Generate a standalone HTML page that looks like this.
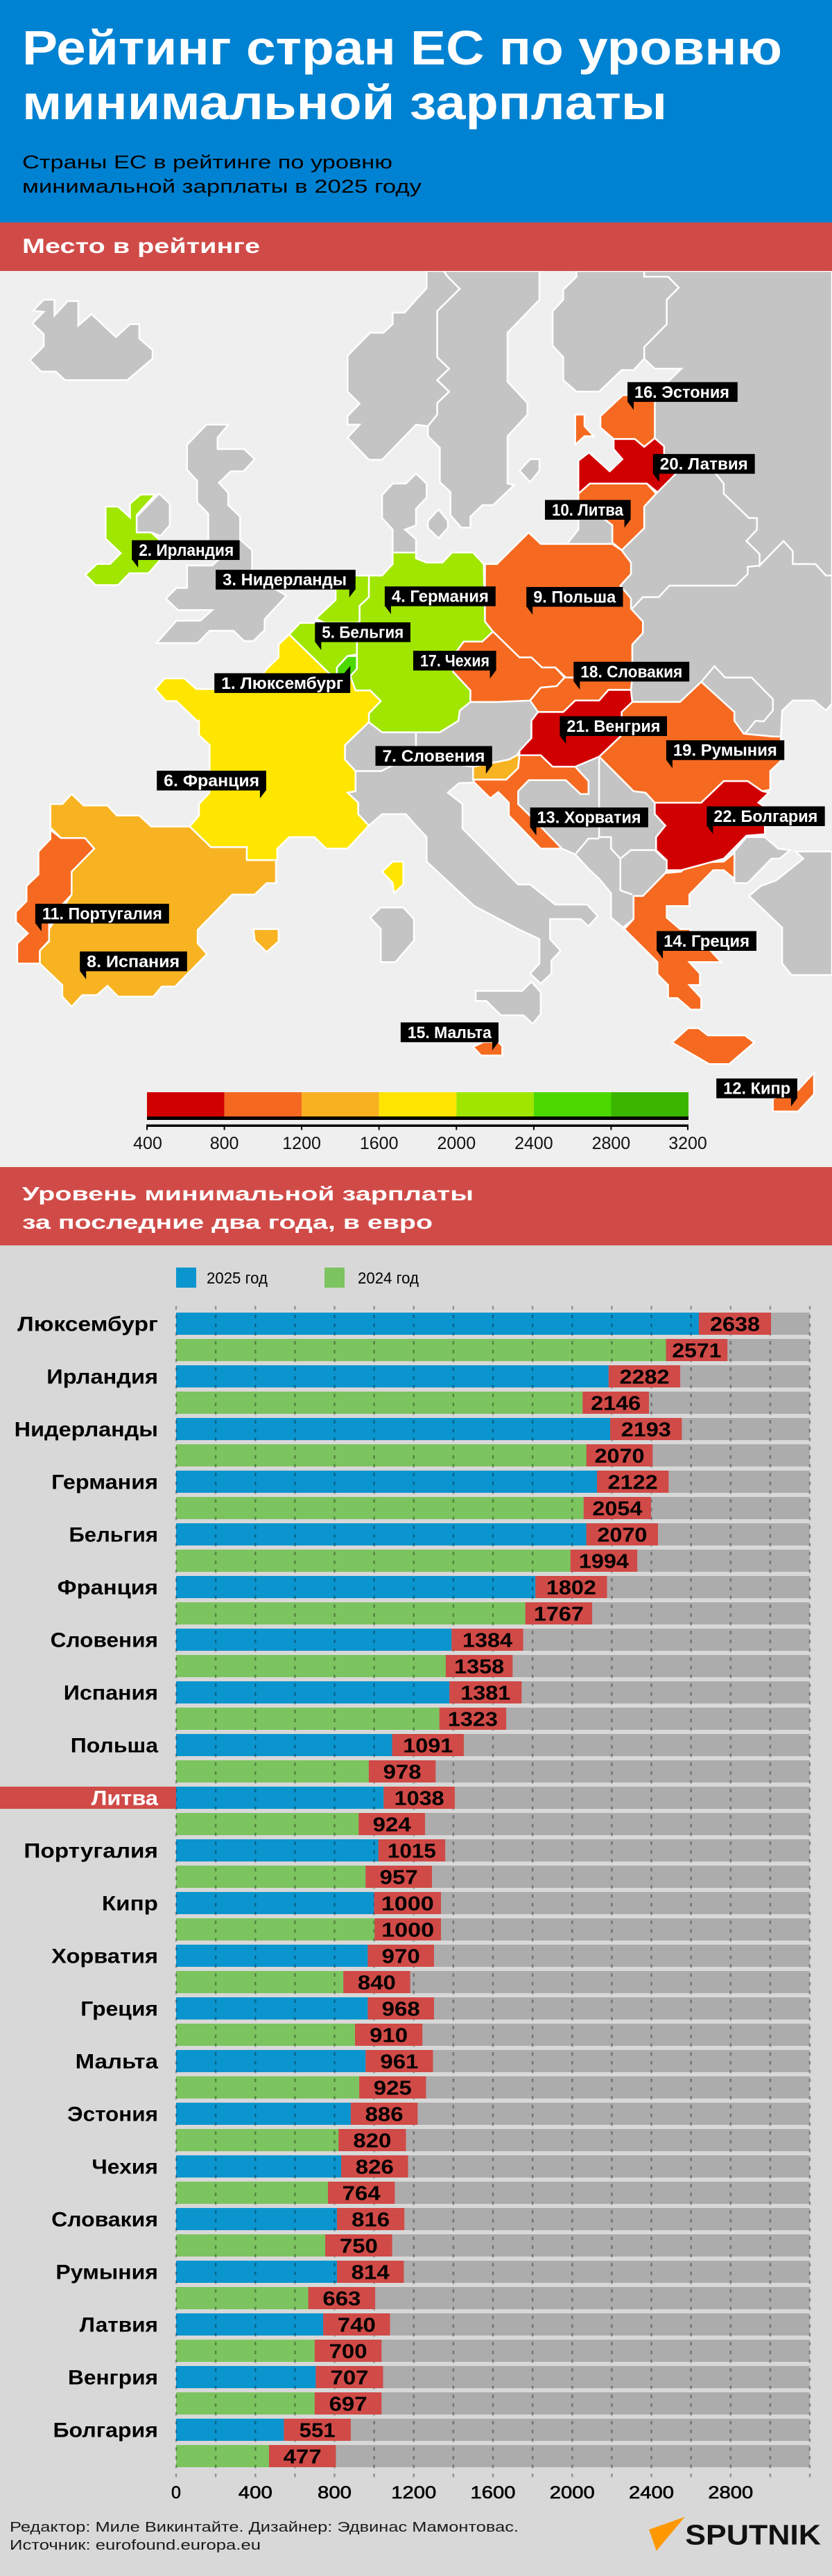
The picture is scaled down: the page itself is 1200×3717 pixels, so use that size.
<!DOCTYPE html>
<html><head><meta charset="utf-8"><style>
html,body{margin:0;padding:0;background:#d8d8d8;}
svg{display:block;}
text{font-family:"Liberation Sans","DejaVu Sans",sans-serif;}
</style></head><body>
<svg width="1200" height="3717" viewBox="0 0 1200 3717" xmlns="http://www.w3.org/2000/svg">
<defs><clipPath id="mc"><rect x="0" y="391" width="1200" height="1293"/></clipPath></defs>
<!-- header -->
<rect x="0" y="0" width="1200" height="321" fill="#0082d2"/>
<text x="32" y="93" font-size="70" font-weight="bold" fill="#fff" textLength="1096" lengthAdjust="spacingAndGlyphs">Рейтинг стран ЕС по уровню</text>
<text x="32" y="172" font-size="70" font-weight="bold" fill="#fff" textLength="930" lengthAdjust="spacingAndGlyphs">минимальной зарплаты</text>
<text x="32" y="243" font-size="27" fill="#000" textLength="534" lengthAdjust="spacingAndGlyphs">Страны ЕС в рейтинге по уровню</text>
<text x="32" y="278" font-size="27" fill="#000" textLength="576" lengthAdjust="spacingAndGlyphs">минимальной зарплаты в 2025 году</text>
<rect x="0" y="321" width="1200" height="70" fill="#d04b48"/>
<text x="32" y="365" font-size="30" font-weight="bold" fill="#fff" textLength="343" lengthAdjust="spacingAndGlyphs">Место в рейтинге</text>

<!-- map -->
<rect x="0" y="391" width="1200" height="1293" fill="#efefef"/>
<g clip-path="url(#mc)" stroke="#fff" stroke-width="2.5" stroke-linejoin="miter">
<g fill="#c4c4c4">
<polygon points="47.8,448.2 63.1,432.5 78.5,432.5 78.5,455.3 97.6,434.5 112.9,434.5 112.9,469.8 132,453.2 167.2,486.4 187.5,467.7 200.9,467.7 200.9,488.4 220,505 220,517.5 183.7,548.5 93.8,548.5 80.4,536.1 59.3,536.1 42.9,519.5 63.1,499.6 63.1,482.2 46.7,466.5 63.1,449.9"/>
<polygon points="297.7,612.8 329.1,612.8 313.8,631.5 313.8,648 352.1,648 367.4,662.6 351.3,680 333,680 315.7,696.6 329.1,711.1 329.1,728.9 346.3,745.5 346.3,778.6 363.6,794 363.6,830.5 413.3,859.5 381.6,893.5 381.6,909.2 365.5,925 352.1,925 336.8,910.1 302.3,910.1 285.1,927.9 225.8,927.9 254.5,895.6 288.9,895.6 306.2,880.2 256.4,880.2 239.2,863.6 254.5,848.3 269.8,848.3 269.8,816 306.2,816 317.6,805.6 300.4,786.9 300.4,741.3 284.3,724.8 284.3,693.7 269.8,677.9 269.8,641.8"/>
<polygon points="197.1,745.5 229.6,712.3 244.9,726.8 244.9,757.8 231.5,773.3 218.1,768.3 197.1,768.3"/>
<!-- east -->
<polygon points="929.1,391 1200,391 1200,1015 1191.3,1025.3 1174,1010.8 1143.4,1010.8 1128.1,1025.3 1126.2,1062.8 1114.7,1062.8 1072.6,1058.7 1059.2,1040 1059.2,1027.4 1011.4,983.9 980.8,1012.9 911.9,1012.9 910,995.5 911.9,977.6 911.9,930 927.2,913.4 927.2,896.8 910,878.2 910,863.6 894.7,845 910,828.4 910,811.8 896.6,794 929.1,762.1 929.1,731 946.3,712.3 948.3,710.2 977,681.2 957.8,656.3 957.8,643.9 944.4,632.3 944.4,570.1 963.6,550.6 982.7,532 944.4,532 929.1,517.5 929.1,500.9 961.6,467.7 961.6,432.5 978.9,415 963.6,399.3 929.1,399.3"/>
<polyline fill="none" points="977,681.2 1030.5,681.2 1043.9,697.8 1043.9,712.3 1080.3,747.5 1091.8,747.5 1091.8,764.1 1076.5,780.7 1095.6,799.4 1095.6,816 1130,780.7 1143.4,795.2 1143.4,813.9 1176,813.9 1191.3,830.5 1200,830.5"/>
<polyline fill="none" points="1095.6,816 1078.4,818 1078.4,828.4 1061.2,845 965.5,845 950.2,861.6 927.2,861.6 911.9,878.2"/>
<polyline fill="none" points="1011.4,983.9 1030.5,961.1 1045.8,977.6 1084.1,977.6 1114.7,1008.7 1114.7,1025.3 1101.3,1041 1089.8,1040 1074.6,1058.7"/>
<!-- Finland -->
<polygon points="831.5,391 929.1,391 929.1,399.3 963.6,399.3 978.9,415 961.6,432.5 961.6,467.7 929.1,500.9 929.1,517.5 913.8,534 896.6,534 864.1,565.1 831.5,565.1 812.4,548.5 812.4,515.4 797.1,498.8 797.1,449 812.4,432.5 812.4,418 831.5,399.3"/>
<!-- Norway -->
<polygon points="615.3,391 640,391 645.9,399.3 663.1,416.7 630.6,449 630.6,515.4 647.8,532 630.6,548.5 647.8,565.1 630.6,581.7 630.6,598.3 617.2,614.9 600,612.8 551.1,663.4 532,663.4 501.3,631.5 518.6,612.8 501.3,612.8 501.3,600.4 518.6,582.5 501.3,565.1 501.3,513.3 533.9,480.1 553,480.1 566.4,467.7 566.4,451.1 583.6,451.1 600,432.5 615.3,415.9"/>
<!-- Sweden -->
<polygon points="640,391 778,391 778,432.5 732,480.1 732,550.6 760.7,581.7 760.7,598.3 732,629.4 732,697.8 741.6,699.9 711,728.9 695.7,728.9 678.5,745.5 678.5,761.2 665.1,761.2 649.8,743.4 649.8,710.2 634.4,695.7 634.4,646 617.2,629.4 617.2,614.9 630.6,598.3 630.6,581.7 647.8,565.1 630.6,548.5 647.8,532 630.6,515.4 630.6,449 663.1,416.7 645.9,399.3"/>
<polygon points="749.3,679.1 764.6,662.6 778,662.6 778,679.1 764.6,695.7"/>
<polygon points="617.2,751.7 632.5,735.1 645.9,751.7 645.9,762.1 632.5,776.6 617.2,762.1"/>
<!-- Denmark -->
<polygon points="551.1,714.4 566.4,697.8 585.5,697.8 600,683.3 615.3,698 615.3,718 600,734 600,758 584,764.1 600,778 600,797.3 566.4,797.3 566.4,764.1 551.1,747.5"/>
<!-- Kaliningrad -->
<polygon points="834.2,747.5 869.8,747.5 883.2,757.9 883.2,784.9 818,784.9 834.2,764.1"/>
<!-- Switzerland, Austria -->
<polygon points="532,1042 551.1,1056.6 600,1056.6 600,1090 575,1100 550,1112.6 512.8,1112.6 497.5,1096 497.5,1075.2"/>
<polygon points="634.4,1056.6 661,1040 663.1,1025.3 678.5,1012.9 716.7,1012.9 764.6,1010.8 776,1027.4 766.5,1040 766.5,1064.9 749.3,1083.5 745.4,1089.8 734,1096 682.3,1106.3 640,1100 600,1090 600,1056.6"/>
<!-- Italy -->
<polygon points="512.8,1112.6 550,1112.6 575,1100 600,1090 640,1100 682.3,1106.3 682.3,1125 684.2,1129.1 662,1130 645.9,1143.7 667,1160.2 667,1195.5 747.3,1276.3 764.6,1276.3 800.9,1305.3 846.8,1305.3 862.1,1321.9 848.8,1336.4 837.3,1326.1 793.3,1326.1 793.3,1355.1 808.6,1371.7 795.2,1386.2 795.2,1404.8 779.9,1419.4 764.6,1404.8 778,1390.3 778,1355.1 747.3,1340.6 684.2,1307.4 615.3,1243.2 615.3,1207.9 600,1191.3 585.5,1174.7 551.1,1174.7 532,1191.3 516.6,1174.7 516.6,1158.2 501.3,1143.7 512.8,1141.6"/>
<polygon points="686.1,1429.7 753.1,1429.7 766.5,1416.5 779.9,1431.8 779.9,1462.9 768.4,1477.4 755,1465 722.5,1465 701.4,1444.2 686.1,1444.2"/>
<polygon points="533.9,1324 549.2,1309.5 581.7,1309.5 597,1326.1 597,1357.2 570.2,1388.3 549.2,1388.3 549.2,1340.6"/>
<!-- Balkans -->
<polygon points="810.5,1224.5 829.6,1232.8 850.7,1255.6 864.1,1268 881.3,1288.8 881.3,1324 898.5,1338.5 913.8,1326.1 913.8,1292.9 927.2,1292.9 959.7,1259.7 961.6,1255.6 961.6,1241.1 946.3,1226.6 946.3,1207.9 959.7,1191.3 944.4,1174.7 944.4,1158.2 931,1143.7 913.8,1141.6 864.1,1091.8 829.6,1106.3 848.8,1127.1 848.8,1145.7 837.3,1145.7 816.2,1125.8 762.6,1125.8 747.3,1141.6 747.3,1160.2 768.4,1181"/>
<polyline fill="none" points="864.1,1093.9 864.1,1207.9 881.3,1207.9 881.3,1224.5 894.7,1239 894.7,1284.6 911.9,1290.8"/>
<polyline fill="none" points="829.6,1232.8 848.8,1210 864.1,1210"/>
<polyline fill="none" points="894.7,1239 910,1226.6 944.4,1226.6 959.7,1241.1"/>
<!-- Turkey -->
<polygon points="1059.2,1228.6 1076.5,1207.9 1103.2,1207.9 1122.4,1224.5 1139.6,1226.6 1124.3,1239 1112.8,1239 1078.4,1274.2 1059.2,1274.2"/>
<polygon points="1147.3,1228.6 1200,1228.6 1200,1406.9 1141.5,1406.9 1128.1,1390.3 1128.1,1338.5 1110.9,1321.9 1080.3,1292.9 1097.5,1278.4 1120,1270 1158.7,1239"/>
</g>
<!-- lime -->
<g fill="#a0e600">
<polygon points="152.3,731 170.3,731 187.5,746.7 187.5,726.8 202.8,713.6 223.9,713.6 197.1,743.4 197.1,768.3 218.1,768.3 229.6,778.6 229.6,809.7 214.3,827.1 186.8,827.1 170.3,844.2 137.8,844.2 123.2,829.2 139.7,813.8 158.8,813.8 174.1,798.1 152.3,777.4"/>
<polygon points="535.8,830.5 551.1,830.5 566.4,813.9 566.4,797.3 600,797.3 600,805.6 615.3,811.8 638.3,811.8 651.7,797.3 682.3,797.3 697.6,813.9 699.5,896.8 711,911.3 695.7,925.8 668.9,925.8 653.6,946.6 653.6,969.4 678.5,996.3 678.5,1012.9 663.1,1025.3 661,1040 634.4,1056.6 551.1,1056.6 532,1042 532,1029.4 549.2,1011.6 533.9,996.3 512.8,996.3 505.2,975.6 514.7,965.2 514.7,898.9 518.6,896.8 518.6,874 532,861.6 532,830.5"/>
<polygon points="455.4,892.7 484.1,865.7 484.1,830.5 532,830.5 532,861.6 518.6,874 518.6,896.8 514.7,898.9 468.8,898.9"/>
<polygon points="417.1,915.5 432.5,898.9 514.7,898.9 514.7,944.5 501.3,946.6 486,963.1 486,975.6 474.5,971.4"/>
</g>
<polygon fill="#4cd900" points="486,963.1 501.3,946.6 514.7,946.6 514.7,965.2 505.2,975.6 486,975.6"/>
<!-- yellow France -->
<g fill="#ffe600">
<polygon points="223.9,994.2 237.3,978.9 266,978.9 283.2,994.2 363.6,994.2 384.6,965.2 401.8,948.6 401.8,930 417.1,915.5 474.5,971.4 486,975.6 505.2,975.6 512.8,996.3 533.9,996.3 549.2,1011.6 532,1029.4 532,1042 497.5,1075.2 497.5,1096 512.8,1112.6 512.8,1141.6 501.3,1143.7 516.6,1158.2 516.6,1174.7 532,1191.3 501.3,1224.5 470.7,1224.5 453.5,1207.9 417.1,1207.9 399.9,1224.5 399.9,1241.1 355.9,1241.1 355.9,1222.4 304.2,1222.4 273.6,1192.6 287,1176.8 287,1160.2 302.3,1143.7 302.3,1075.2 287,1060.7 287,1040 285.1,1041 254.5,1011.6 239.2,1011.6"/>
<polygon points="551.1,1257.7 566.4,1243.2 581.7,1243.2 581.7,1276.3 568.3,1288.8 566.4,1274.2"/>
</g>
<!-- amber -->
<g fill="#f8b322">
<polygon points="72.7,1160.2 89.9,1160.2 103.3,1145.7 120.6,1162.3 155,1162.3 168.4,1176.8 200.9,1176.8 218.1,1192.6 273.6,1192.6 304.2,1222.4 355.9,1222.4 355.9,1241.1 398,1241.1 398,1274.2 384.6,1274.2 367.4,1290.8 334.9,1290.8 285.1,1341.8 285.1,1361.3 298.5,1376.6 252.6,1423.5 233.4,1423.5 221.2,1438 170.3,1438 155,1422.3 139.7,1435.9 118.6,1435.9 103.3,1452.5 89.9,1438 89.9,1421.4 57.4,1390.3 57.4,1371.7 70.8,1358.4 70.8,1340.6 103.3,1290.8 103.3,1257.7 135.9,1224.5 122.5,1209.2 88,1209.2 72.7,1194.2"/>
<polygon points="365.5,1340.6 401.8,1340.6 401.8,1358.4 384.6,1373.7 367.4,1357.2"/>
<polygon points="682.3,1106.3 734,1096 745.4,1089.8 749.3,1089.8 747.3,1108.4 730.1,1125 682.3,1125"/>
</g>
<!-- orange -->
<g fill="#f56a20">
<polygon points="72.7,1197.5 88,1209.2 122.5,1209.2 135.9,1224.5 103.3,1257.7 103.3,1290.8 70.8,1326.1 70.8,1357.2 57.4,1371.7 57.4,1390.3 24.9,1390.3 24.9,1361.3 40.2,1346.8 23,1330.2 23,1315.7 38.3,1300.4 38.3,1278.4 55.5,1261.8 55.5,1228.6 72.7,1210.8"/>
<polygon points="866,600.4 898.5,570.1 944.4,570.1 944.4,632.3 929.1,644.7 915.7,633.5 885.1,633.5 866,617"/>
<polygon points="829.6,598.3 843,598.3 843,614.9 856.4,629.4 843,629.4 829.6,641.8"/>
<polygon points="834.2,712.3 850.7,697.8 933,697.8 946.3,712.3 929.1,731 929.1,762.1 896.6,794 883.2,782.8 883.2,757.9 869.8,747.5 834.2,747.5"/>
<polygon points="699.5,813.9 716.7,813.9 762.6,768.3 779.9,784.9 883.2,784.9 896.6,794 910,811.8 910,828.4 894.7,845 910,863.6 910,878.2 927.2,896.8 927.2,913.4 911.9,930 911.9,977.6 816.2,977.6 800.9,963.1 781.8,963.1 766.5,948.6 749.3,948.6 711,911.3 699.5,896.8"/>
<polygon points="668.9,925.8 695.7,925.8 711,911.3 749.3,948.6 766.5,948.6 781.8,963.1 800.9,963.1 814.3,977.6 802.8,990.1 779.9,992.2 764.6,1010.8 716.7,1012.9 678.5,1012.9 678.5,996.3 653.6,969.4 653.6,946.6"/>
<polygon points="814.3,977.6 911.9,977.6 910,995.5 877.5,995.5 864.1,1010.8 829.6,1010.8 812.4,1027.4 776,1027.4 764.6,1010.8 779.9,992.2 802.8,990.1"/>
<polygon points="911.9,1012.9 980.8,1012.9 1011.4,983.9 1059.2,1027.4 1059.2,1040 1072.6,1058.7 1114.7,1062.8 1126.2,1062.8 1126.2,1098 1110.9,1112.6 1110.9,1139.5 1099.4,1141.6 1078.4,1127.1 1043.9,1127.1 1011.4,1158.2 944.4,1158.2 931,1143.7 913.8,1141.6 864.1,1091.8 894.7,1062.8 896.6,1041 896.6,1027.4"/>
<polygon points="749.3,1089.8 779.9,1089.8 797.1,1106.3 829.6,1106.3 848.8,1127.1 848.8,1145.7 837.3,1145.7 816.2,1125.8 762.6,1125.8 747.3,1141.6 747.3,1160.2 768.4,1181 810.5,1224.5 779.9,1224.5 733.9,1176.8 733.9,1158.2 718.6,1142.8 707.2,1151.9 684.2,1129.1 682.3,1125 730.1,1125 747.3,1108.4"/>
<polygon points="913.8,1292.9 927.2,1292.9 959.7,1259.7 982.7,1257.7 994.2,1245.2 1043.9,1243.2 1059.2,1230.7 1059.2,1268 1043.9,1255.6 1028.6,1255.6 994.2,1290.8 994.2,1307.4 961.6,1307.4 961.6,1324 980.8,1340.6 994.2,1340.6 1024.8,1371.7 1040.1,1388.3 994.2,1388.3 1009.5,1404.8 1009.5,1421.4 994.2,1421.4 1011.4,1440.1 1011.4,1456.7 996.1,1456.7 977,1440.1 963.6,1440.1 963.6,1421.4 948.3,1405.7 948.3,1388.3 900.4,1340.6 913.8,1326.1"/>
<polygon points="969.3,1504.3 992.3,1483.6 1007.6,1483.6 1021,1494 1074.6,1494 1087.9,1504.3 1051.6,1535.4 1022.9,1535.4"/>
<polygon points="1114.7,1603.8 1114.7,1585.2 1151.1,1572.8 1174,1547.9 1174,1579 1151.1,1603.8"/>
<polygon points="682.3,1510.6 697.6,1503.5 718.6,1503.5 724.4,1509.3 724.4,1523 693.8,1523"/>
</g>
<!-- red -->
<g fill="#d10000">
<polygon points="885.1,633.5 915.7,633.5 929.1,644.7 944.4,632.3 957.8,643.9 957.8,656.3 977,681.2 948.3,710.2 933,697.8 850.7,697.8 834.2,712.3 834.2,664.6 849.5,653 879.4,680 897.7,662.6 885.1,648"/>
<polygon points="766.5,1040 776,1027.4 812.4,1027.4 829.6,1010.8 864.1,1010.8 877.5,995.5 910,995.5 911.9,1012.9 896.6,1027.4 896.6,1041 894.7,1062.8 864.1,1091.8 829.6,1106.3 797.1,1106.3 779.9,1089.8 749.3,1089.8 749.3,1083.5 766.5,1064.9"/>
<polygon points="944.4,1158.2 1011.4,1158.2 1043.9,1127.1 1078.4,1127.1 1099.4,1141.6 1109,1143.7 1093.7,1158.2 1103.2,1164.4 1103.2,1203.8 1076.5,1205.8 1043.9,1239 982.7,1255.6 961.6,1255.6 961.6,1241.1 946.3,1226.6 946.3,1207.9 959.7,1191.3 944.4,1174.7"/>
</g>
</g>
<!-- map labels -->
<g fill="#000">
<rect x="309.2" y="971.4" width="196" height="28.5"/><polygon points="496.4,971.4 505.2,971.4 505.2,961"/>
<rect x="190.2" y="779.5" width="155.4" height="28.5"/><polygon points="190.2,807 199.2,807 199.2,819"/>
<rect x="311.1" y="822.2" width="201.7" height="28.5"/><polygon points="503.8,850 512.8,850 503.8,862"/>
<rect x="554.9" y="846.2" width="159.9" height="28.5"/><polygon points="554.9,874 563.9,874 563.9,886"/>
<rect x="454.3" y="898" width="137.7" height="28.5"/><polygon points="454.3,926 463.3,926 463.3,938"/>
<rect x="226.2" y="1112.1" width="157.7" height="28.5"/><polygon points="374.9,1140 383.9,1140 374.9,1152"/>
<rect x="541.5" y="1076.5" width="168.3" height="28.5"/><polygon points="700.8,1104.5 709.8,1104.5 700.8,1116.5"/>
<rect x="115.2" y="1372.9" width="154.6" height="28.5"/><polygon points="115.2,1401 124.2,1401 124.2,1413"/>
<rect x="759.2" y="847" width="139.3" height="28.5"/><polygon points="759.2,875 768.2,875 768.2,887"/>
<rect x="786" y="721.4" width="123.6" height="28.5"/><polygon points="900.6,749.5 909.6,749.5 900.6,761.5"/>
<rect x="50.9" y="1304.1" width="192.9" height="28.5"/><polygon points="50.9,1332 59.9,1332 59.9,1344"/>
<rect x="1033.2" y="1556.2" width="116.7" height="28.5"/><polygon points="1140.9,1584.5 1149.9,1584.5 1140.9,1596.5"/>
<rect x="764.6" y="1165.2" width="170.3" height="28.5"/><polygon points="764.6,1193.5 773.6,1193.5 773.6,1205.5"/>
<rect x="947.1" y="1343.5" width="143.9" height="28.5"/><polygon points="947.1,1371.5 956.1,1371.5 956.1,1383.5"/>
<rect x="577.9" y="1475.3" width="141.1" height="28.5"/><polygon points="710,1503.5 719,1503.5 710,1515.5"/>
<rect x="905" y="551.4" width="158.8" height="28.5"/><polygon points="905,579.5 914,579.5 914,591.5"/>
<rect x="596" y="939" width="119.6" height="28.5"/><polygon points="706.6,967 715.6,967 706.6,979"/>
<rect x="827.3" y="954.9" width="166.9" height="28.5"/><polygon points="827.3,983 836.3,983 836.3,995"/>
<rect x="960.9" y="1068.2" width="170.3" height="28.5"/><polygon points="960.9,1096.5 969.9,1096.5 969.9,1108.5"/>
<rect x="941.8" y="655.1" width="146.9" height="28.5"/><polygon points="941.8,683.5 950.8,683.5 950.8,695.5"/>
<rect x="807.4" y="1033.5" width="154.6" height="28.5"/><polygon points="807.4,1061.5 816.4,1061.5 816.4,1073.5"/>
<rect x="1019.4" y="1163.5" width="170.3" height="28.5"/><polygon points="1019.4,1191.5 1028.4,1191.5 1028.4,1203.5"/>
</g>
<g fill="#fff" font-size="24" font-weight="bold">
<text x="319.2" y="994" textLength="176" lengthAdjust="spacingAndGlyphs">1. Люксембург</text>
<text x="200.2" y="802" textLength="137" lengthAdjust="spacingAndGlyphs">2. Ирландия</text>
<text x="321.1" y="844.7" textLength="179" lengthAdjust="spacingAndGlyphs">3. Нидерланды</text>
<text x="564.9" y="868.7" textLength="140" lengthAdjust="spacingAndGlyphs">4. Германия</text>
<text x="464.3" y="920.5" textLength="118" lengthAdjust="spacingAndGlyphs">5. Бельгия</text>
<text x="236.2" y="1134.6" textLength="138" lengthAdjust="spacingAndGlyphs">6. Франция</text>
<text x="551.5" y="1099" textLength="148" lengthAdjust="spacingAndGlyphs">7. Словения</text>
<text x="125.2" y="1395.4" textLength="134" lengthAdjust="spacingAndGlyphs">8. Испания</text>
<text x="769.2" y="869.5" textLength="119" lengthAdjust="spacingAndGlyphs">9. Польша</text>
<text x="796" y="743.9" textLength="103" lengthAdjust="spacingAndGlyphs">10. Литва</text>
<text x="60.9" y="1326.6" textLength="173" lengthAdjust="spacingAndGlyphs">11. Португалия</text>
<text x="1043.2" y="1578.7" textLength="97" lengthAdjust="spacingAndGlyphs">12. Кипр</text>
<text x="774.6" y="1187.7" textLength="150" lengthAdjust="spacingAndGlyphs">13. Хорватия</text>
<text x="957.1" y="1366" textLength="124" lengthAdjust="spacingAndGlyphs">14. Греция</text>
<text x="587.9" y="1497.8" textLength="121" lengthAdjust="spacingAndGlyphs">15. Мальта</text>
<text x="915" y="573.9" textLength="137" lengthAdjust="spacingAndGlyphs">16. Эстония</text>
<text x="606" y="961.5" textLength="100" lengthAdjust="spacingAndGlyphs">17. Чехия</text>
<text x="837.3" y="977.4" textLength="147" lengthAdjust="spacingAndGlyphs">18. Словакия</text>
<text x="970.9" y="1090.7" textLength="150" lengthAdjust="spacingAndGlyphs">19. Румыния</text>
<text x="951.8" y="677.6" textLength="127" lengthAdjust="spacingAndGlyphs">20. Латвия</text>
<text x="817.4" y="1056" textLength="135" lengthAdjust="spacingAndGlyphs">21. Венгрия</text>
<text x="1029.4" y="1186" textLength="150" lengthAdjust="spacingAndGlyphs">22. Болгария</text>
</g>
<!-- colorbar -->
<rect x="212" y="1576" width="111.6" height="35" fill="#d10000"/>
<rect x="323.6" y="1576" width="111.6" height="35" fill="#f46820"/>
<rect x="435.1" y="1576" width="111.6" height="35" fill="#f8b120"/>
<rect x="546.7" y="1576" width="111.6" height="35" fill="#ffe400"/>
<rect x="658.3" y="1576" width="111.6" height="35" fill="#a0e500"/>
<rect x="769.9" y="1576" width="111.6" height="35" fill="#4cd800"/>
<rect x="881.4" y="1576" width="111.6" height="35" fill="#3ab600"/>
<rect x="212" y="1611" width="781" height="5" fill="#000"/>
<rect x="212" y="1622.5" width="781" height="3.5" fill="#000"/>
<g fill="#000">
<rect x="211" y="1622.5" width="2" height="8"/><rect x="322.6" y="1622.5" width="2" height="8"/><rect x="434.1" y="1622.5" width="2" height="8"/><rect x="545.7" y="1622.5" width="2" height="8"/><rect x="657.3" y="1622.5" width="2" height="8"/><rect x="768.9" y="1622.5" width="2" height="8"/><rect x="880.4" y="1622.5" width="2" height="8"/><rect x="991" y="1622.5" width="2" height="8"/>
</g>
<g font-size="25" fill="#111" text-anchor="middle">
<text x="213" y="1658">400</text><text x="323.6" y="1658">800</text><text x="435.1" y="1658">1200</text><text x="546.7" y="1658">1600</text><text x="658.3" y="1658">2000</text><text x="769.9" y="1658">2400</text><text x="881.4" y="1658">2800</text><text x="992" y="1658">3200</text>
</g>

<!-- section 2 -->
<rect x="0" y="1684" width="1200" height="113" fill="#d04b48"/>
<text x="32" y="1732" font-size="28" font-weight="bold" fill="#fff" textLength="651" lengthAdjust="spacingAndGlyphs">Уровень минимальной зарплаты</text>
<text x="32" y="1773" font-size="28" font-weight="bold" fill="#fff" textLength="592" lengthAdjust="spacingAndGlyphs">за последние два года, в евро</text>
<rect x="0" y="1797" width="1200" height="1920" fill="#d8d8d8"/>
<rect x="254" y="1829" width="29" height="29" fill="#0b95cf"/>
<text x="298" y="1852" font-size="23" fill="#000" textLength="88" lengthAdjust="spacingAndGlyphs">2025 год</text>
<rect x="468" y="1829" width="29" height="29" fill="#7cc45f"/>
<text x="516" y="1852" font-size="23" fill="#000" textLength="88" lengthAdjust="spacingAndGlyphs">2024 год</text>

<!-- gray bars -->
<g fill="#acacac">
<rect x="254" y="1894" width="914" height="32"/><rect x="254" y="1932" width="914" height="32"/><rect x="254" y="1970" width="914" height="32"/><rect x="254" y="2008" width="914" height="32"/><rect x="254" y="2046" width="914" height="32"/><rect x="254" y="2084" width="914" height="32"/><rect x="254" y="2122" width="914" height="32"/><rect x="254" y="2160" width="914" height="32"/><rect x="254" y="2198" width="914" height="32"/><rect x="254" y="2236" width="914" height="32"/><rect x="254" y="2274" width="914" height="32"/><rect x="254" y="2312" width="914" height="32"/><rect x="254" y="2350" width="914" height="32"/><rect x="254" y="2388" width="914" height="32"/><rect x="254" y="2426" width="914" height="32"/><rect x="254" y="2464" width="914" height="32"/><rect x="254" y="2502" width="914" height="32"/><rect x="254" y="2540" width="914" height="32"/><rect x="254" y="2578" width="914" height="32"/><rect x="254" y="2616" width="914" height="32"/><rect x="254" y="2654" width="914" height="32"/><rect x="254" y="2692" width="914" height="32"/><rect x="254" y="2730" width="914" height="32"/><rect x="254" y="2768" width="914" height="32"/><rect x="254" y="2806" width="914" height="32"/><rect x="254" y="2844" width="914" height="32"/><rect x="254" y="2882" width="914" height="32"/><rect x="254" y="2920" width="914" height="32"/><rect x="254" y="2958" width="914" height="32"/><rect x="254" y="2996" width="914" height="32"/><rect x="254" y="3034" width="914" height="32"/><rect x="254" y="3072" width="914" height="32"/><rect x="254" y="3110" width="914" height="32"/><rect x="254" y="3148" width="914" height="32"/><rect x="254" y="3186" width="914" height="32"/><rect x="254" y="3224" width="914" height="32"/><rect x="254" y="3262" width="914" height="32"/><rect x="254" y="3300" width="914" height="32"/><rect x="254" y="3338" width="914" height="32"/><rect x="254" y="3376" width="914" height="32"/><rect x="254" y="3414" width="914" height="32"/><rect x="254" y="3452" width="914" height="32"/><rect x="254" y="3490" width="914" height="32"/><rect x="254" y="3528" width="914" height="32"/>
</g>
<!-- blue bars -->
<g fill="#0b95cf">
<rect x="254" y="1894" width="753.9" height="32"/><rect x="254" y="1970" width="623.8" height="32"/><rect x="254" y="2046" width="626.1" height="32"/><rect x="254" y="2122" width="607" height="32"/><rect x="254" y="2198" width="591.7" height="32"/><rect x="254" y="2274" width="518.2" height="32"/><rect x="254" y="2350" width="397.3" height="32"/><rect x="254" y="2426" width="394.2" height="32"/><rect x="254" y="2502" width="311.6" height="32"/><rect x="254" y="2578" width="299.3" height="32"/><rect x="254" y="2654" width="291.7" height="32"/><rect x="254" y="2730" width="285.5" height="32"/><rect x="254" y="2806" width="276.4" height="32"/><rect x="254" y="2882" width="276.4" height="32"/><rect x="254" y="2958" width="273.3" height="32"/><rect x="254" y="3034" width="251.9" height="32"/><rect x="254" y="3110" width="238.1" height="32"/><rect x="254" y="3186" width="232" height="32"/><rect x="254" y="3262" width="232" height="32"/><rect x="254" y="3338" width="212.1" height="32"/><rect x="254" y="3414" width="201.4" height="32"/><rect x="254" y="3490" width="155.4" height="32"/>
</g>
<!-- green bars -->
<g fill="#7cc45f">
<rect x="254" y="1932" width="706.5" height="32"/><rect x="254" y="2008" width="586.3" height="32"/><rect x="254" y="2084" width="591.7" height="32"/><rect x="254" y="2160" width="587.8" height="32"/><rect x="254" y="2236" width="568.7" height="32"/><rect x="254" y="2312" width="503.7" height="32"/><rect x="254" y="2388" width="388.9" height="32"/><rect x="254" y="2464" width="379.7" height="32"/><rect x="254" y="2540" width="277.9" height="32"/><rect x="254" y="2616" width="263.3" height="32"/><rect x="254" y="2692" width="273.3" height="32"/><rect x="254" y="2768" width="286.3" height="32"/><rect x="254" y="2844" width="241.2" height="32"/><rect x="254" y="2920" width="258" height="32"/><rect x="254" y="2996" width="264.1" height="32"/><rect x="254" y="3072" width="234.3" height="32"/><rect x="254" y="3148" width="219" height="32"/><rect x="254" y="3224" width="215.1" height="32"/><rect x="254" y="3300" width="190.6" height="32"/><rect x="254" y="3376" width="199.8" height="32"/><rect x="254" y="3452" width="199.8" height="32"/><rect x="254" y="3528" width="134" height="32"/>
</g>
<!-- gridlines -->
<path d="M254 1884.5V3578M311.1 1884.5V3578M368.3 1884.5V3578M425.4 1884.5V3578M482.5 1884.5V3578M539.6 1884.5V3578M596.8 1884.5V3578M653.9 1884.5V3578M711 1884.5V3578M768.1 1884.5V3578M825.3 1884.5V3578M882.4 1884.5V3578M939.5 1884.5V3578M996.6 1884.5V3578M1053.8 1884.5V3578M1110.9 1884.5V3578M1168 1884.5V3578" stroke="#000" stroke-opacity="0.32" stroke-width="2.5" stroke-dasharray="5 7.667" fill="none"/>
<!-- red value boxes -->
<g fill="#d04a47">
<rect x="1007.9" y="1894" width="104.1" height="32"/><rect x="960.5" y="1932" width="88.7" height="32"/><rect x="877.8" y="1970" width="103.3" height="32"/><rect x="840.3" y="2008" width="95.7" height="32"/><rect x="880.1" y="2046" width="103.3" height="32"/><rect x="845.7" y="2084" width="95.6" height="32"/><rect x="861" y="2122" width="103.3" height="32"/><rect x="841.8" y="2160" width="97.2" height="32"/><rect x="845.7" y="2198" width="103.3" height="32"/><rect x="822.7" y="2236" width="96.4" height="32"/><rect x="772.2" y="2274" width="103.3" height="32"/><rect x="757.7" y="2312" width="96.4" height="32"/><rect x="651.3" y="2350" width="103.3" height="32"/><rect x="642.9" y="2388" width="96.4" height="32"/><rect x="648.2" y="2426" width="104.1" height="32"/><rect x="633.7" y="2464" width="96.4" height="32"/><rect x="565.6" y="2502" width="103.3" height="32"/><rect x="531.9" y="2540" width="96.4" height="32"/><rect x="553.3" y="2578" width="102.6" height="32"/><rect x="517.3" y="2616" width="95.7" height="32"/><rect x="545.7" y="2654" width="96.4" height="32"/><rect x="527.3" y="2692" width="95.7" height="32"/><rect x="539.5" y="2730" width="96.5" height="32"/><rect x="540.3" y="2768" width="95.7" height="32"/><rect x="530.4" y="2806" width="95.6" height="32"/><rect x="495.2" y="2844" width="96.4" height="32"/><rect x="530.4" y="2882" width="95.6" height="32"/><rect x="512" y="2920" width="97.2" height="32"/><rect x="527.3" y="2958" width="97.2" height="32"/><rect x="518.1" y="2996" width="96.4" height="32"/><rect x="505.9" y="3034" width="96.4" height="32"/><rect x="488.3" y="3072" width="97.2" height="32"/><rect x="492.1" y="3110" width="96.4" height="32"/><rect x="473" y="3148" width="96.4" height="32"/><rect x="486" y="3186" width="97.2" height="32"/><rect x="469.1" y="3224" width="96.5" height="32"/><rect x="486" y="3262" width="96.4" height="32"/><rect x="444.6" y="3300" width="96.5" height="32"/><rect x="466.1" y="3338" width="96.4" height="32"/><rect x="453.8" y="3376" width="96.5" height="32"/><rect x="455.4" y="3414" width="97.1" height="32"/><rect x="453.8" y="3452" width="96.5" height="32"/><rect x="409.4" y="3490" width="96.5" height="32"/><rect x="388" y="3528" width="96.4" height="32"/>
</g>
<g font-size="29" font-weight="bold" fill="#000" text-anchor="middle">
<text x="1060" y="1920.5" textLength="72" lengthAdjust="spacingAndGlyphs">2638</text>
<text x="1004.9" y="1958.5" textLength="71" lengthAdjust="spacingAndGlyphs">2571</text>
<text x="929.5" y="1996.5" textLength="72" lengthAdjust="spacingAndGlyphs">2282</text>
<text x="888.2" y="2034.5" textLength="72" lengthAdjust="spacingAndGlyphs">2146</text>
<text x="931.8" y="2072.5" textLength="72" lengthAdjust="spacingAndGlyphs">2193</text>
<text x="893.5" y="2110.5" textLength="72" lengthAdjust="spacingAndGlyphs">2070</text>
<text x="912.7" y="2148.5" textLength="72" lengthAdjust="spacingAndGlyphs">2122</text>
<text x="890.4" y="2186.5" textLength="72" lengthAdjust="spacingAndGlyphs">2054</text>
<text x="897.4" y="2224.5" textLength="72" lengthAdjust="spacingAndGlyphs">2070</text>
<text x="870.9" y="2262.5" textLength="72" lengthAdjust="spacingAndGlyphs">1994</text>
<text x="823.9" y="2300.5" textLength="72" lengthAdjust="spacingAndGlyphs">1802</text>
<text x="805.9" y="2338.5" textLength="72" lengthAdjust="spacingAndGlyphs">1767</text>
<text x="703" y="2376.5" textLength="72" lengthAdjust="spacingAndGlyphs">1384</text>
<text x="691.1" y="2414.5" textLength="72" lengthAdjust="spacingAndGlyphs">1358</text>
<text x="700.3" y="2452.5" textLength="72" lengthAdjust="spacingAndGlyphs">1381</text>
<text x="681.9" y="2490.5" textLength="72" lengthAdjust="spacingAndGlyphs">1323</text>
<text x="617.3" y="2528.5" textLength="72" lengthAdjust="spacingAndGlyphs">1091</text>
<text x="580.1" y="2566.5" textLength="55" lengthAdjust="spacingAndGlyphs">978</text>
<text x="604.6" y="2604.5" textLength="72" lengthAdjust="spacingAndGlyphs">1038</text>
<text x="565.2" y="2642.5" textLength="55" lengthAdjust="spacingAndGlyphs">924</text>
<text x="593.9" y="2680.5" textLength="70" lengthAdjust="spacingAndGlyphs">1015</text>
<text x="575.2" y="2718.5" textLength="55" lengthAdjust="spacingAndGlyphs">957</text>
<text x="587.8" y="2756.5" textLength="76" lengthAdjust="spacingAndGlyphs">1000</text>
<text x="588.2" y="2794.5" textLength="76" lengthAdjust="spacingAndGlyphs">1000</text>
<text x="578.2" y="2832.5" textLength="55" lengthAdjust="spacingAndGlyphs">970</text>
<text x="543.4" y="2870.5" textLength="55" lengthAdjust="spacingAndGlyphs">840</text>
<text x="578.2" y="2908.5" textLength="55" lengthAdjust="spacingAndGlyphs">968</text>
<text x="560.6" y="2946.5" textLength="55" lengthAdjust="spacingAndGlyphs">910</text>
<text x="575.9" y="2984.5" textLength="55" lengthAdjust="spacingAndGlyphs">961</text>
<text x="566.3" y="3022.5" textLength="55" lengthAdjust="spacingAndGlyphs">925</text>
<text x="554.1" y="3060.5" textLength="55" lengthAdjust="spacingAndGlyphs">886</text>
<text x="536.9" y="3098.5" textLength="55" lengthAdjust="spacingAndGlyphs">820</text>
<text x="540.3" y="3136.5" textLength="55" lengthAdjust="spacingAndGlyphs">826</text>
<text x="521.2" y="3174.5" textLength="55" lengthAdjust="spacingAndGlyphs">764</text>
<text x="534.6" y="3212.5" textLength="55" lengthAdjust="spacingAndGlyphs">816</text>
<text x="517.4" y="3250.5" textLength="55" lengthAdjust="spacingAndGlyphs">750</text>
<text x="534.2" y="3288.5" textLength="55" lengthAdjust="spacingAndGlyphs">814</text>
<text x="492.9" y="3326.5" textLength="55" lengthAdjust="spacingAndGlyphs">663</text>
<text x="514.3" y="3364.5" textLength="55" lengthAdjust="spacingAndGlyphs">740</text>
<text x="502.1" y="3402.5" textLength="55" lengthAdjust="spacingAndGlyphs">700</text>
<text x="504" y="3440.5" textLength="55" lengthAdjust="spacingAndGlyphs">707</text>
<text x="502.1" y="3478.5" textLength="55" lengthAdjust="spacingAndGlyphs">697</text>
<text x="457.7" y="3516.5" textLength="52" lengthAdjust="spacingAndGlyphs">551</text>
<text x="436.2" y="3554.5" textLength="55" lengthAdjust="spacingAndGlyphs">477</text>
</g>
<!-- country labels -->
<rect x="0" y="2578" width="254" height="32" fill="#d04a47"/>
<g font-size="30" font-weight="bold" fill="#000">
<text x="25.2" y="1920.5" textLength="202.8" lengthAdjust="spacingAndGlyphs">Люксембург</text>
<text x="67.3" y="1996.5" textLength="160.7" lengthAdjust="spacingAndGlyphs">Ирландия</text>
<text x="20.7" y="2072.5" textLength="207.3" lengthAdjust="spacingAndGlyphs">Нидерланды</text>
<text x="74.2" y="2148.5" textLength="153.8" lengthAdjust="spacingAndGlyphs">Германия</text>
<text x="99.5" y="2224.5" textLength="128.5" lengthAdjust="spacingAndGlyphs">Бельгия</text>
<text x="82.7" y="2300.5" textLength="145.3" lengthAdjust="spacingAndGlyphs">Франция</text>
<text x="72.7" y="2376.5" textLength="155.3" lengthAdjust="spacingAndGlyphs">Словения</text>
<text x="91.8" y="2452.5" textLength="136.2" lengthAdjust="spacingAndGlyphs">Испания</text>
<text x="101.8" y="2528.5" textLength="126.2" lengthAdjust="spacingAndGlyphs">Польша</text>
<text x="131.6" y="2604.5" textLength="96.4" lengthAdjust="spacingAndGlyphs" fill="#fff">Литва</text>
<text x="34.4" y="2680.5" textLength="193.6" lengthAdjust="spacingAndGlyphs">Португалия</text>
<text x="146.9" y="2756.5" textLength="81.1" lengthAdjust="spacingAndGlyphs">Кипр</text>
<text x="74.2" y="2832.5" textLength="153.8" lengthAdjust="spacingAndGlyphs">Хорватия</text>
<text x="116.3" y="2908.5" textLength="111.7" lengthAdjust="spacingAndGlyphs">Греция</text>
<text x="108.7" y="2984.5" textLength="119.3" lengthAdjust="spacingAndGlyphs">Мальта</text>
<text x="97.2" y="3060.5" textLength="130.8" lengthAdjust="spacingAndGlyphs">Эстония</text>
<text x="132.4" y="3136.5" textLength="95.6" lengthAdjust="spacingAndGlyphs">Чехия</text>
<text x="74.2" y="3212.5" textLength="153.8" lengthAdjust="spacingAndGlyphs">Словакия</text>
<text x="80.4" y="3288.5" textLength="147.6" lengthAdjust="spacingAndGlyphs">Румыния</text>
<text x="114.8" y="3364.5" textLength="113.2" lengthAdjust="spacingAndGlyphs">Латвия</text>
<text x="98" y="3440.5" textLength="130" lengthAdjust="spacingAndGlyphs">Венгрия</text>
<text x="76.5" y="3516.5" textLength="151.5" lengthAdjust="spacingAndGlyphs">Болгария</text>
</g>
<!-- axis -->
<g font-size="25" fill="#000" stroke="#000" stroke-width="0.6" text-anchor="middle">
<text x="254" y="3605">0</text>
<text x="368.3" y="3605" textLength="49" lengthAdjust="spacingAndGlyphs">400</text>
<text x="482.5" y="3605" textLength="49" lengthAdjust="spacingAndGlyphs">800</text>
<text x="596.8" y="3605" textLength="65" lengthAdjust="spacingAndGlyphs">1200</text>
<text x="711" y="3605" textLength="65" lengthAdjust="spacingAndGlyphs">1600</text>
<text x="825.3" y="3605" textLength="65" lengthAdjust="spacingAndGlyphs">2000</text>
<text x="939.5" y="3605" textLength="65" lengthAdjust="spacingAndGlyphs">2400</text>
<text x="1053.8" y="3605" textLength="65" lengthAdjust="spacingAndGlyphs">2800</text>
</g>
<!-- footer -->
<text x="14" y="3653" font-size="20" fill="#1a1a1a" textLength="734" lengthAdjust="spacingAndGlyphs">Редактор: Миле Викинтайте.  Дизайнер: Эдвинас Мамонтовас.</text>
<text x="14" y="3679" font-size="20" fill="#1a1a1a" textLength="362" lengthAdjust="spacingAndGlyphs">Источник: eurofound.europa.eu</text>
<polygon points="987.7,3631.7 936,3650 946.7,3680.7" fill="#ff9800"/>
<text x="988.3" y="3671.7" font-size="41" font-weight="bold" fill="#111" textLength="195.7" lengthAdjust="spacingAndGlyphs">SPUTNIK</text>
</svg>
</body></html>
